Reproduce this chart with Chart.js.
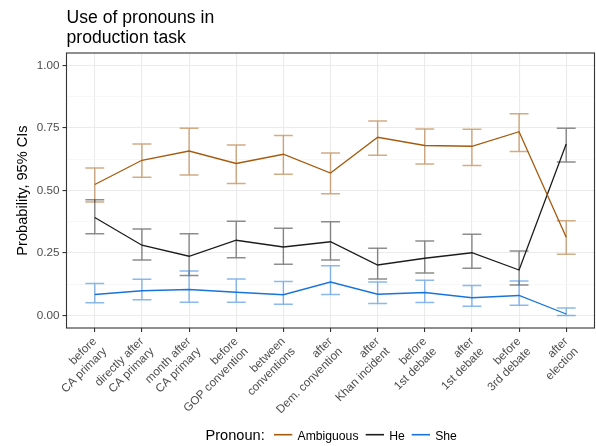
<!DOCTYPE html>
<html>
<head>
<meta charset="utf-8">
<script src="https://cdn.jsdelivr.net/npm/chart.js@4/dist/chart.umd.min.js"></script>
<style>
  html, body { margin: 0; padding: 0; background: #ffffff; }
  #wrap { width: 596px; height: 446px; position: relative; }
</style>
</head>
<body>
<div id="wrap"><canvas id="c" width="596" height="446"></canvas></div>
<script>
// Survey periods (two-line tick labels)
const categories = [
  ["before", "CA primary"],
  ["directly after", "CA primary"],
  ["month after", "CA primary"],
  ["before", "GOP convention"],
  ["between", "conventions"],
  ["after", "Dem. convention"],
  ["after", "Khan incident"],
  ["before", "1st debate"],
  ["after", "1st debate"],
  ["before", "3rd debate"],
  ["after", "election"]
];

// Estimated probabilities with 95% confidence limits
const ambiguous     = [0.524, 0.621, 0.658, 0.608, 0.645, 0.570, 0.713, 0.680, 0.677, 0.735, 0.313];
const ambiguousLow  = [0.454, 0.553, 0.562, 0.528, 0.565, 0.487, 0.641, 0.606, 0.600, 0.656, 0.245];
const ambiguousHigh = [0.590, 0.686, 0.749, 0.682, 0.720, 0.650, 0.778, 0.746, 0.745, 0.807, 0.379];

const he     = [0.392, 0.281, 0.237, 0.301, 0.274, 0.295, 0.202, 0.229, 0.251, 0.182, 0.686];
const heLow  = [0.327, 0.222, 0.160, 0.231, 0.205, 0.222, 0.146, 0.170, 0.189, 0.122, 0.614];
const heHigh = [0.463, 0.346, 0.327, 0.377, 0.349, 0.375, 0.269, 0.298, 0.325, 0.258, 0.749];

const she     = [0.084, 0.099, 0.104, 0.093, 0.083, 0.134, 0.085, 0.092, 0.071, 0.080, 0.006];
const sheLow  = [0.051, 0.063, 0.053, 0.053, 0.045, 0.084, 0.048, 0.052, 0.037, 0.041, 0.000];
const sheHigh = [0.128, 0.145, 0.178, 0.146, 0.136, 0.199, 0.134, 0.141, 0.120, 0.138, 0.030];

const yTicks = [0, 0.25, 0.5, 0.75, 1];

const FONT = "'Liberation Sans', Arial, Helvetica, sans-serif";
Chart.defaults.font.family = FONT;

const series = [
  { label: "Ambiguous", values: ambiguous, low: ambiguousLow, high: ambiguousHigh, color: "#A65A0D", bar: "rgba(166,90,13,0.5)" },
  { label: "He",        values: he,        low: heLow,        high: heHigh,        color: "#1C1C1C", bar: "rgba(28,28,28,0.5)" },
  { label: "She",       values: she,       low: sheLow,       high: sheHigh,       color: "#1874DC", bar: "rgba(24,116,220,0.5)" }
];

const isMajor = v => yTicks.some(t => Math.abs(t - v) < 1e-6);

// Error bars, panel border, titles and legend
const decor = {
  id: "decor",
  beforeDatasetsDraw(chart) {
    const { ctx, scales: { x, y } } = chart;
    const half = x.getPixelForValue(0.2) - x.getPixelForValue(0);
    ctx.save();
    ctx.lineWidth = 1.4;
    series.forEach(s => {
      ctx.strokeStyle = s.bar;
      s.values.forEach((_, i) => {
        const px = x.getPixelForValue(i);
        const y1 = y.getPixelForValue(s.low[i]);
        const y2 = y.getPixelForValue(s.high[i]);
        ctx.beginPath();
        ctx.moveTo(px, y1); ctx.lineTo(px, y2);
        ctx.moveTo(px - half, y1); ctx.lineTo(px + half, y1);
        ctx.moveTo(px - half, y2); ctx.lineTo(px + half, y2);
        ctx.stroke();
      });
    });
    ctx.restore();
  },
  afterDatasetsDraw(chart) {
    const { ctx, chartArea: a } = chart;
    ctx.save();
    ctx.strokeStyle = "#333333";
    ctx.lineWidth = 1.1;
    ctx.strokeRect(a.left, a.top, a.right - a.left, a.bottom - a.top);
    ctx.restore();
  },
  afterDraw(chart) {
    const { ctx, chartArea: a } = chart;
    ctx.save();
    // plot title
    ctx.fillStyle = "#000000";
    ctx.textAlign = "left";
    ctx.textBaseline = "alphabetic";
    ctx.font = "17.6px " + FONT;
    ctx.fillText("Use of pronouns in", a.left, 23);
    ctx.fillText("production task", a.left, 42.5);

    // y axis title
    ctx.save();
    ctx.translate(26.5, (a.top + a.bottom) / 2);
    ctx.rotate(-Math.PI / 2);
    ctx.textAlign = "center";
    ctx.font = "14.6px " + FONT;
    ctx.fillText("Probability, 95% CIs", 0, 0);
    ctx.restore();

    // legend
    const base = 439.5, keyY = 434.7, keyLen = 18.3;
    ctx.font = "14.6px " + FONT;
    ctx.fillText("Pronoun:", 205.5, base);
    const keyX = [274, 365.7, 411.7];
    ctx.font = "12.2px " + FONT;
    series.forEach((s, i) => {
      ctx.strokeStyle = s.color;
      ctx.lineWidth = 1.6;
      ctx.beginPath();
      ctx.moveTo(keyX[i], keyY);
      ctx.lineTo(keyX[i] + keyLen, keyY);
      ctx.stroke();
      ctx.fillStyle = "#000000";
      ctx.fillText(s.label, keyX[i] + keyLen + 5.2, base);
    });
    ctx.restore();
  }
};

new Chart(document.getElementById("c"), {
  type: "line",
  data: {
    datasets: series.map(s => ({
      label: s.label,
      data: s.values.map((v, i) => ({ x: i, y: v })),
      borderColor: s.color,
      backgroundColor: s.color,
      borderWidth: 1.3,
      pointRadius: 0,
      tension: 0,
      fill: false
    }))
  },
  options: {
    responsive: false,
    devicePixelRatio: 1,
    animation: false,
    layout: { padding: { top: 53, left: 0, right: 1.5, bottom: 28 } },
    plugins: { legend: { display: false }, tooltip: { enabled: false }, title: { display: false } },
    scales: {
      x: {
        type: "linear",
        min: -0.6,
        max: categories.length - 1 + 0.6,
        afterBuildTicks: s => { s.ticks = categories.map((_, i) => ({ value: i })); },
        afterFit: s => { s.height = 90; },
        border: { display: false },
        grid: { color: "#ebebeb", lineWidth: 1.1, tickLength: 4, tickColor: "#333333", tickWidth: 1.1 },
        ticks: {
          autoSkip: false,
          minRotation: 45,
          maxRotation: 45,
          padding: 2.5,
          color: "#4d4d4d",
          font: { size: 11.7, lineHeight: 1.22 },
          callback: v => categories[v]
        }
      },
      y: {
        type: "linear",
        min: -0.05,
        max: 1.05,
        afterBuildTicks: s => {
          const t = [];
          for (let k = 0; k <= 8; k++) t.push({ value: k * 0.125 });
          s.ticks = t;
        },
        afterFit: s => { s.width = 66.5; },
        border: { display: false },
        grid: {
          color: c => (c.tick && isMajor(c.tick.value)) ? "#ebebeb" : "#f3f3f3",
          lineWidth: c => (c.tick && isMajor(c.tick.value)) ? 1.1 : 0.7,
          tickLength: 4,
          tickColor: c => (c.tick && isMajor(c.tick.value)) ? "#333333" : "rgba(0,0,0,0)",
          tickWidth: 1.1
        },
        ticks: {
          padding: 3,
          color: "#4d4d4d",
          font: { size: 11.7 },
          callback: v => isMajor(v) ? v.toFixed(2) : ""
        }
      }
    }
  },
  plugins: [decor]
});
</script>
</body>
</html>
